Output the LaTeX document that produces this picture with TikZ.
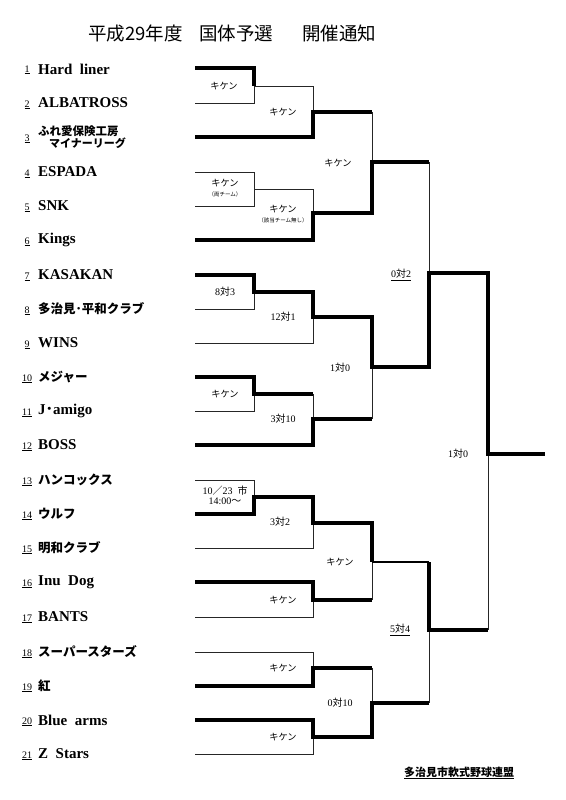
\documentclass[tikz,border=0pt]{standalone}
\usepackage{fontspec}
\setmainfont{Liberation Serif}
\newfontfamily\jp{Noto Sans CJK JP}
\newcommand\tai{{\jp 対}}
\begin{document}
\begin{tikzpicture}[x=1pt,y=-1pt,
  win/.style={line width=3.2pt},
  lose/.style={line width=0.9pt, black!85},
  mid/.style={line width=1.6pt},
  num/.style={font=\fontsize{10}{10}\selectfont, inner sep=0pt, anchor=base},
  tname/.style={font=\fontsize{15}{15}\selectfont\bfseries, anchor=west, inner sep=0pt},
  jname/.style={font=\jp\fontsize{12.5}{12.5}\selectfont\bfseries, anchor=west, inner sep=0pt},
  lbl/.style={font=\jp\fontsize{9.2}{9.2}\selectfont, inner sep=0pt},
  tiny/.style={font=\jp\fontsize{5.5}{5.5}\selectfont, inner sep=0pt},
  score/.style={font=\fontsize{10}{10}\selectfont, inner sep=0pt},
  titlef/.style={font=\jp\fontsize{18.5}{18.5}\selectfont, anchor=west, inner sep=0pt},
]
\useasboundingbox (0,0) rectangle (565,800);

% title
\node[titlef] (ti1) at (88,33) {平成29年度};
\node[titlef] (ti2) at (199,33) {国体予選};
\node[titlef] (ti3) at (302,33) {開催通知};

% team numbers
\foreach \n/\y in {1/68,2/103,3/137,4/172,5/206,6/240,7/275,8/309,9/343,10/377,11/411,12/445,13/480,14/514,15/548,16/582,17/617,18/652,19/686,20/720,21/754}
  \node[num] (n\n) at (27,\y+4) {\underline{\n}};

% team names
\node[tname] (t1) at (38,69) {Hard\ \ liner};
\node[tname] (t2) at (38,103) {ALBATROSS};
\node[jname,font=\jp\fontsize{11.5}{11.5}\selectfont\bfseries] (t3a) at (38,131) {ふれ愛保険工房};
\node[jname,font=\jp\fontsize{11}{11}\selectfont\bfseries] (t3b) at (49,143) {マイナーリーグ};
\node[tname] (t4) at (38,172) {ESPADA};
\node[tname] (t5) at (38,206) {SNK};
\node[tname] (t6) at (38,240) {Kings};
\node[tname] (t7) at (38,275) {KASAKAN};
\node[jname] (t8) at (38,309) {多治見･平和クラブ};
\node[tname] (t9) at (38,343) {WINS};
\node[jname] (t10) at (38,377) {メジャー};
\node[tname] (t11) at (38,411) {J{\jp ･}amigo};
\node[tname] (t12) at (38,445) {BOSS};
\node[jname] (t13) at (38,480) {ハンコックス};
\node[jname] (t14) at (38,514) {ウルフ};
\node[jname] (t15) at (38,548) {明和クラブ};
\node[tname] (t16) at (38,582) {Inu\ \ Dog};
\node[tname] (t17) at (38,617) {BANTS};
\node[jname] (t18) at (38,652) {スーパースターズ};
\node[jname] (t19) at (38,686) {紅};
\node[tname] (t20) at (38,720) {Blue\ \ arms};
\node[tname] (t21) at (38,754) {Z\ \ Stars};

% thin (losing) lines
\draw[lose] (195,103) -- (254,103) -- (254,86) -- (313,86) -- (313,112);
\draw[lose] (195,172) -- (254,172) -- (254,206) -- (195,206);
\draw[lose] (254,189) -- (313,189) -- (313,213);
\draw[lose] (372,112) -- (372,162);
\draw[lose] (195,309) -- (254,309) -- (254,292);
\draw[lose] (195,343) -- (313,343) -- (313,317);
\draw[lose] (195,411) -- (254,411) -- (254,394);
\draw[lose] (313,394) -- (313,419);
\draw[lose] (372,367) -- (372,419);
\draw[lose] (429,162) -- (429,273);
\draw[lose] (195,480) -- (254,480) -- (254,497);
\draw[lose] (195,548) -- (313,548) -- (313,523);
\draw[lose] (313,600) -- (313,617) -- (195,617);
\draw[lose] (372,562) -- (372,600);
\draw[lose] (195,652) -- (313,652) -- (313,668);
\draw[lose] (313,737) -- (313,754) -- (195,754);
\draw[lose] (372,668) -- (372,703);
\draw[lose] (429,630) -- (429,703);
\draw[lose] (488,454) -- (488,630);

% thick (winning) lines
\draw[win] (195,68) -| (254,86);
\draw[win] (195,137) -| (313,112) -- (372,112);
\draw[win] (195,240) -| (313,213) -- (372,213) |- (429,162);
\draw[win] (195,275) -| (254,292) -- (313,292) |- (372,317) |- (429,367) |- (488,273) |- (545,454);
\draw[win] (195,377) -| (254,394) -- (313,394);
\draw[win] (195,445) -| (313,419) -- (372,419);
\draw[win] (195,514) -| (254,497) -- (313,497) |- (372,523) -- (372,562);
\draw[mid] (372,562) -- (429,562);
\draw[win] (429,562) |- (488,630);
\draw[win] (195,582) -| (313,600) -- (372,600);
\draw[win] (195,686) -| (313,668) -- (372,668);
\draw[win] (195,720) -| (313,737) -- (372,737) |- (429,703);

% match labels
\node[lbl] (mA) at (224,86) {キケン};
\node[lbl] (mB) at (283,112) {キケン};
\node[lbl] (mC) at (225,183) {キケン};
\node[tiny] (mC2) at (225,194) {（両チーム）};
\node[lbl] (mD) at (283,209) {キケン};
\node[tiny] (mD2) at (283,220) {（該当チーム無し）};
\node[lbl] (mE) at (338,163) {キケン};
\node[score] (mF) at (225,292) {8\tai3};
\node[score] (mG) at (283,317) {12\tai1};
\node[lbl] (mH) at (225,394) {キケン};
\node[score] (mI) at (283,419) {3\tai10};
\node[score] (mJ) at (340,368) {1\tai0};
\node[score] (mK) at (401,275) {\underline{0\tai2}};
\node[score] (mM1) at (225,491) {10{\jp ／}23\ \ {\jp 市}};
\node[score] (mM2) at (225,501) {14:00{\jp ～}};
\node[score] (mN) at (280,522) {3\tai2};
\node[lbl] (mO) at (283,600) {キケン};
\node[lbl] (mP) at (340,562) {キケン};
\node[lbl] (mQ) at (283,668) {キケン};
\node[lbl] (mR) at (283,737) {キケン};
\node[score] (mS) at (340,703) {0\tai10};
\node[score] (mL) at (400,630) {\underline{5\tai4}};
\node[score] (mZ) at (458,454) {1\tai0};

% footer
\node[font=\jp\fontsize{11}{11}\selectfont\bfseries, inner sep=0pt] (foot) at (459,773) {\underline{多治見市軟式野球連盟}};
\end{tikzpicture}
\end{document}
